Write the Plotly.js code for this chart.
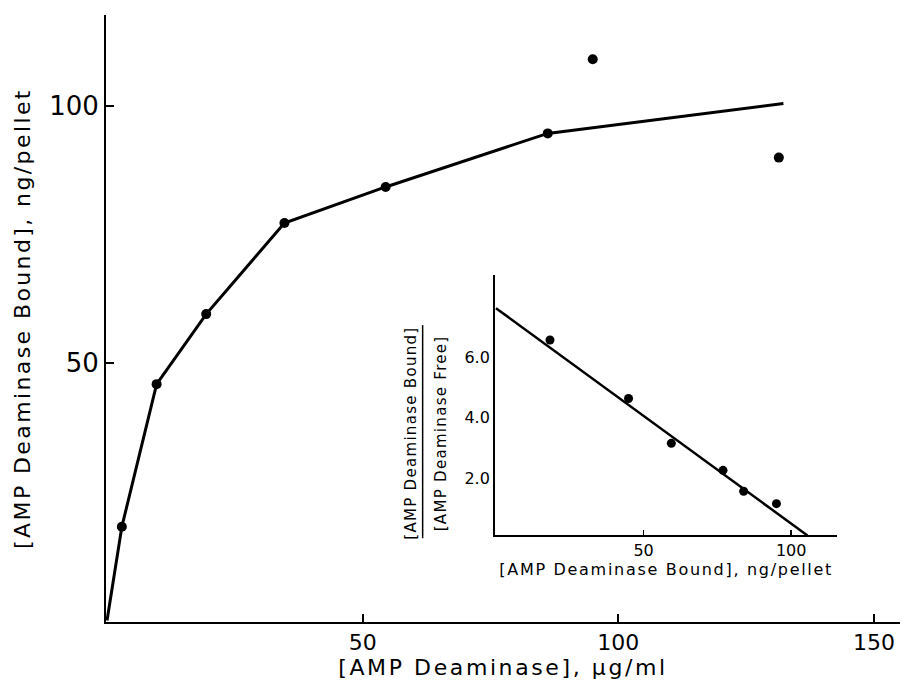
<!DOCTYPE html>
<html>
<head>
<meta charset="utf-8">
<script src="https://cdn.plot.ly/plotly-3.0.1.min.js"></script>
<style>
html,body{margin:0;padding:0;background:#fff;}
#chart{width:904px;height:693px;}
#chart text.xtitle{letter-spacing:2.6px;}
#chart text.ytitle{letter-spacing:2.4px;}
#chart text.x2title{letter-spacing:1.7px;}
#chart text.annotation-text{letter-spacing:1.3px;}
</style>
</head>
<body>
<div id="chart"></div>
<script>
// Main plot: saturation curve
const curveX = [0, 2.9, 9.7, 19.4, 34.7, 54.5, 86.2, 132.3];
const curveY = [0, 18.2, 45.9, 59.5, 77.2, 84.2, 94.6, 100.4];
const pointX = [2.9, 9.7, 19.4, 34.7, 54.5, 86.2];
const pointY = [18.2, 45.9, 59.5, 77.2, 84.2, 94.6];
const outlierX = [95.0, 131.4];
const outlierY = [109.0, 89.9];
const mainXTicks = [50, 100, 150];
const mainYTicks = [50, 100];

// Inset: Scatchard plot
const insetX = [18.3, 44.9, 59.4, 76.9, 83.9, 95.0];
const insetY = [6.57, 4.64, 3.16, 2.27, 1.58, 1.17];
const fitX = [0, 105.5];
const fitY = [7.62, 0.12];
const insetXTicks = [50, 100];
const insetYTicks = [2.0, 4.0, 6.0];
const insetYTickText = ['2.0', '4.0', '6.0'];

const FONT = '"DejaVu Sans", "Noto Sans", sans-serif';
const black = '#000';

const traces = [
  {x: curveX, y: curveY, mode: 'lines', line: {color: black, width: 3}, xaxis: 'x', yaxis: 'y', hoverinfo: 'skip'},
  {x: pointX, y: pointY, mode: 'markers', marker: {color: black, size: 10}, xaxis: 'x', yaxis: 'y'},
  {x: outlierX, y: outlierY, mode: 'markers', marker: {color: black, size: 10}, xaxis: 'x', yaxis: 'y'},
  {x: fitX, y: fitY, mode: 'lines', line: {color: black, width: 2.5}, xaxis: 'x2', yaxis: 'y2'},
  {x: insetX, y: insetY, mode: 'markers', marker: {color: black, size: 9}, xaxis: 'x2', yaxis: 'y2'}
];

const layout = {
  width: 904, height: 693,
  margin: {l: 106, r: 4, t: 15, b: 71},
  paper_bgcolor: '#fff', plot_bgcolor: '#fff',
  showlegend: false,
  font: {family: FONT, color: black},
  xaxis: {
    range: [-0.2, 155.1], domain: [0, 1],
    showgrid: false, zeroline: false, showline: true, linecolor: black, linewidth: 2,
    tickmode: 'array', tickvals: mainXTicks, ticktext: mainXTicks.map(String),
    ticks: 'inside', ticklen: 8, tickwidth: 2, tickcolor: black,
    tickfont: {size: 22, family: FONT}, anchor: 'y',
    title: {text: '[AMP Deaminase], μg/ml', font: {size: 22, family: FONT}, standoff: 4}
  },
  yaxis: {
    range: [-0.3, 117.6], domain: [0, 1],
    showgrid: false, zeroline: false, showline: true, linecolor: black, linewidth: 2,
    tickmode: 'array', tickvals: mainYTicks, ticktext: mainYTicks.map(String),
    ticks: 'inside', ticklen: 8, tickwidth: 2, tickcolor: black,
    tickfont: {size: 26, family: FONT}, anchor: 'x',
    title: {text: '[AMP Deaminase Bound], ng/pellet', font: {size: 22, family: FONT}, standoff: 12}
  },
  xaxis2: {
    range: [-0.3, 115.6], domain: [0.490, 0.921], anchor: 'y2',
    showgrid: false, zeroline: false, showline: true, linecolor: black, linewidth: 2,
    tickmode: 'array', tickvals: insetXTicks, ticktext: insetXTicks.map(String),
    ticks: 'inside', ticklen: 5, tickwidth: 1.5, tickcolor: black,
    tickfont: {size: 16, family: FONT},
    title: {text: '[AMP Deaminase Bound], ng/pellet', font: {size: 16, family: FONT}, standoff: 4}
  },
  yaxis2: {
    range: [0.13, 8.72], domain: [0.143, 0.572], anchor: 'x2',
    showgrid: false, zeroline: false, showline: true, linecolor: black, linewidth: 2,
    tickmode: 'array', tickvals: insetYTicks, ticktext: insetYTickText,
    ticks: '', tickfont: {size: 16, family: FONT}
  },
  annotations: [
    {xref: 'paper', yref: 'paper', x: 0.384, y: 0.311, text: '[AMP Deaminase Bound]', textangle: -90,
     showarrow: false, font: {size: 15, family: FONT}, xanchor: 'center', yanchor: 'middle'},
    {xref: 'paper', yref: 'paper', x: 0.422, y: 0.311, text: '[AMP Deaminase Free]', textangle: -90,
     showarrow: false, font: {size: 15, family: FONT}, xanchor: 'center', yanchor: 'middle'}
  ],
  shapes: [
    {type: 'line', xref: 'paper', yref: 'paper', x0: 0.3988, x1: 0.3988, y0: 0.138, y1: 0.489,
     line: {color: black, width: 1.5}}
  ]
};

Plotly.newPlot('chart', traces, layout, {displayModeBar: false, staticPlot: true});
</script>
</body>
</html>
